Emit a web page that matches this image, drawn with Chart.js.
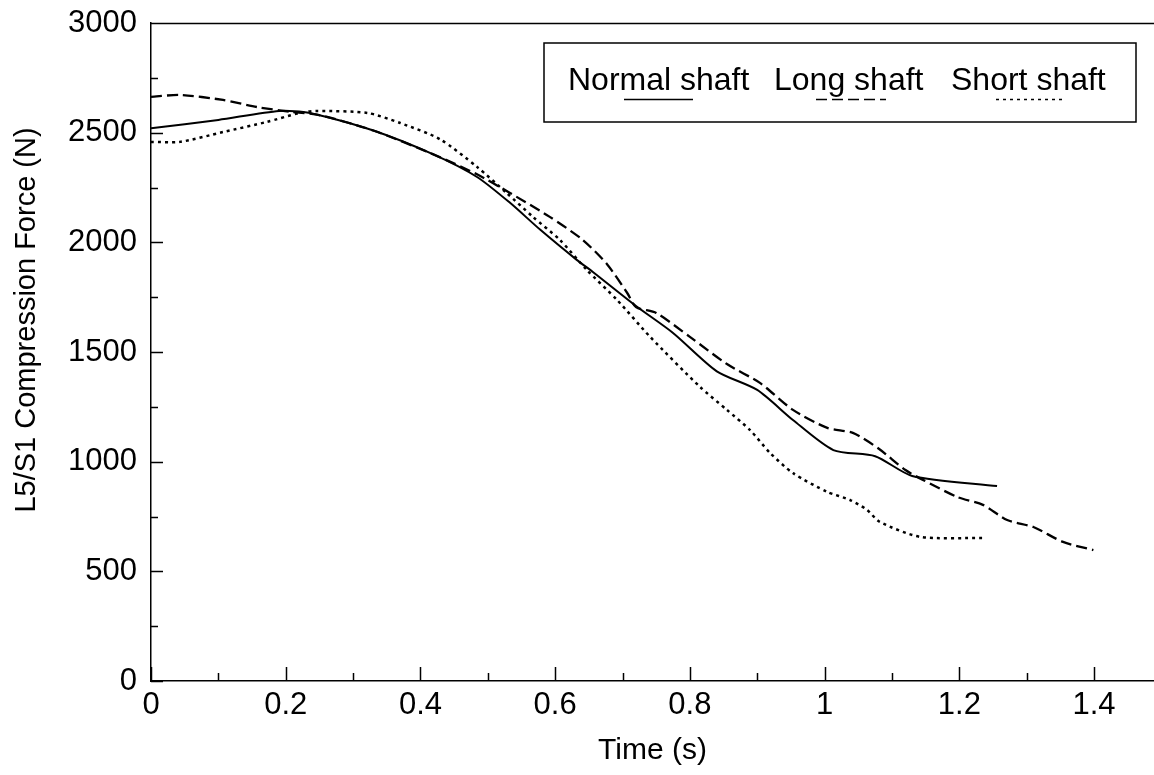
<!DOCTYPE html>
<html>
<head>
<meta charset="utf-8">
<script src="https://cdn.jsdelivr.net/npm/chart.js@4.4.1/dist/chart.umd.min.js"></script>
<style>
  html, body { margin: 0; padding: 0; background: #ffffff; }
  #wrap { width: 1154px; height: 775px; position: relative; }
</style>
</head>
<body>
<div id="wrap"><canvas id="c" width="1154" height="775"></canvas></div>
<script>
// ---- data ----
const normalX = [0, 0.1, 0.19, 0.236, 0.33, 0.42, 0.484, 0.533, 0.578, 0.632, 0.656, 0.72, 0.775, 0.84, 0.9, 0.953, 1.013, 1.075, 1.13, 1.256];
const normalY = [2520, 2558, 2599, 2590, 2510, 2400, 2298, 2180, 2057, 1920, 1865, 1710, 1587, 1412, 1327, 1190, 1053, 1025, 935, 889];

const longX = [0, 0.043, 0.107, 0.157, 0.206, 0.25, 0.33, 0.42, 0.484, 0.533, 0.592, 0.641, 0.677, 0.707, 0.72, 0.75, 0.80, 0.855, 0.904, 0.953, 1.004, 1.042, 1.08, 1.12, 1.146, 1.197, 1.235, 1.271, 1.31, 1.354, 1.399];
const longY = [2663, 2672, 2649, 2617, 2595, 2580, 2510, 2400, 2310, 2225, 2116, 2011, 1900, 1769, 1705, 1678, 1569, 1445, 1359, 1236, 1154, 1131, 1060, 962, 917, 839, 803, 734, 702, 634, 597];

const shortX = [0, 0.043, 0.107, 0.172, 0.221, 0.246, 0.321, 0.37, 0.429, 0.484, 0.528, 0.567, 0.607, 0.647, 0.692, 0.741, 0.815, 0.855, 0.889, 0.919, 0.953, 1.004, 1.038, 1.063, 1.082, 1.142, 1.235];
const shortY = [2458, 2458, 2503, 2549, 2590, 2599, 2590, 2544, 2470, 2344, 2225, 2116, 2011, 1874, 1737, 1569, 1341, 1236, 1145, 1040, 948, 862, 825, 780, 725, 657, 652];

const seriesLabels = ['Normal shaft', 'Long shaft', 'Short shaft'];
const xTickValues = [0, 0.2, 0.4, 0.6, 0.8, 1, 1.2, 1.4];
const xMinorTicks = [0.1, 0.3, 0.5, 0.7, 0.9, 1.1, 1.3];
const yTickValues = [0, 500, 1000, 1500, 2000, 2500, 3000];
const yMinorTicks = [250, 750, 1250, 1750, 2250, 2750];
const xTitle = 'Time (s)';
const yTitle = 'L5/S1 Compression Force (N)';

function pts(xs, ys) { return xs.map((x, i) => ({ x: x, y: ys[i] })); }

const FONT = '"Liberation Sans", Arial, Helvetica, sans-serif';

const ticksPlugin = {
  id: 'inwardTicks',
  afterDatasetsDraw(chart) {
    const ctx = chart.ctx;
    const xs = chart.scales.x, ys = chart.scales.y;
    const a = chart.chartArea;
    ctx.save();
    ctx.strokeStyle = '#000';
    ctx.lineWidth = 1.5;
    ctx.beginPath();
    xTickValues.forEach(v => { const p = Math.round(xs.getPixelForValue(v)) + 0.5; ctx.moveTo(p, a.bottom); ctx.lineTo(p, a.bottom - 14); });
    xMinorTicks.forEach(v => { const p = Math.round(xs.getPixelForValue(v)) + 0.5; ctx.moveTo(p, a.bottom); ctx.lineTo(p, a.bottom - 8); });
    yTickValues.forEach(v => { const p = Math.round(ys.getPixelForValue(v)) + 0.5; ctx.moveTo(a.left, p); ctx.lineTo(a.left + 12, p); });
    yMinorTicks.forEach(v => { const p = Math.round(ys.getPixelForValue(v)) + 0.5; ctx.moveTo(a.left, p); ctx.lineTo(a.left + 7, p); });
    // top frame line
    ctx.moveTo(a.left, a.top + 0.5); ctx.lineTo(chart.width, a.top + 0.5);
    ctx.stroke();

    // y axis title
    ctx.fillStyle = '#000';
    ctx.font = '29px ' + FONT;
    ctx.textAlign = 'center';
    ctx.textBaseline = 'middle';
    ctx.translate(27, 320);
    ctx.rotate(-Math.PI / 2);
    ctx.fillText(yTitle, 0, 0);
    ctx.restore();

    // legend
    ctx.save();
    ctx.strokeStyle = '#000';
    ctx.lineWidth = 1.5;
    ctx.strokeRect(544, 43, 592, 79);
    ctx.fillStyle = '#000';
    ctx.font = '32px ' + FONT;
    ctx.textAlign = 'left';
    ctx.textBaseline = 'alphabetic';
    const textX = [568, 774, 951];
    const sampleX = [[624, 693], [816, 886], [996, 1064]];
    chart.data.datasets.forEach((ds, i) => {
      ctx.fillText(ds.label, textX[i], 90);
      ctx.setLineDash(ds.borderDash || []);
      ctx.lineWidth = 1.5;
      ctx.beginPath();
      ctx.moveTo(sampleX[i][0], 99.5);
      ctx.lineTo(sampleX[i][1], 99.5);
      ctx.stroke();
    });
    ctx.restore();
  }
};

new Chart(document.getElementById('c'), {
  type: 'line',
  data: {
    datasets: [
      { label: seriesLabels[0], data: pts(normalX, normalY), borderColor: '#000', borderWidth: 2, borderDash: [], pointRadius: 0, tension: 0.25, fill: false },
      { label: seriesLabels[1], data: pts(longX, longY), borderColor: '#000', borderWidth: 2.3, borderDash: [11, 5], pointRadius: 0, tension: 0.25, fill: false },
      { label: seriesLabels[2], data: pts(shortX, shortY), borderColor: '#000', borderWidth: 2.5, borderDash: [3, 4], pointRadius: 0, tension: 0.25, fill: false }
    ]
  },
  options: {
    responsive: false,
    animation: false,
    devicePixelRatio: 1,
    layout: { padding: { top: 23, right: 0, left: 0, bottom: 0 } },
    plugins: { legend: { display: false }, tooltip: { enabled: false }, title: { display: false } },
    scales: {
      x: {
        type: 'linear',
        min: 0,
        max: 1.489,
        afterBuildTicks: s => { s.ticks = xTickValues.map(v => ({ value: v })); },
        afterFit: s => { s.height = 94; s.paddingLeft = 0; s.paddingRight = 0; },
        grid: { display: false, drawTicks: false },
        border: { display: true, color: '#000', width: 1.5 },
        ticks: { color: '#000', padding: 6, maxRotation: 0, autoSkip: false, font: { family: FONT, size: 31 }, callback: v => String(v) },
        title: { display: true, text: xTitle, color: '#000', font: { family: FONT, size: 30 }, padding: { top: 0, bottom: 6 } }
      },
      y: {
        type: 'linear',
        min: 0,
        max: 3000,
        afterBuildTicks: s => { s.ticks = yTickValues.map(v => ({ value: v })); },
        afterFit: s => { s.width = 151; s.paddingTop = 0; s.paddingBottom = 0; },
        grid: { display: false, drawTicks: false },
        border: { display: true, color: '#000', width: 1.5 },
        ticks: { color: '#000', padding: 14, autoSkip: false, font: { family: FONT, size: 31 }, callback: v => String(v) }
      }
    }
  },
  plugins: [ticksPlugin]
});
</script>
</body>
</html>
